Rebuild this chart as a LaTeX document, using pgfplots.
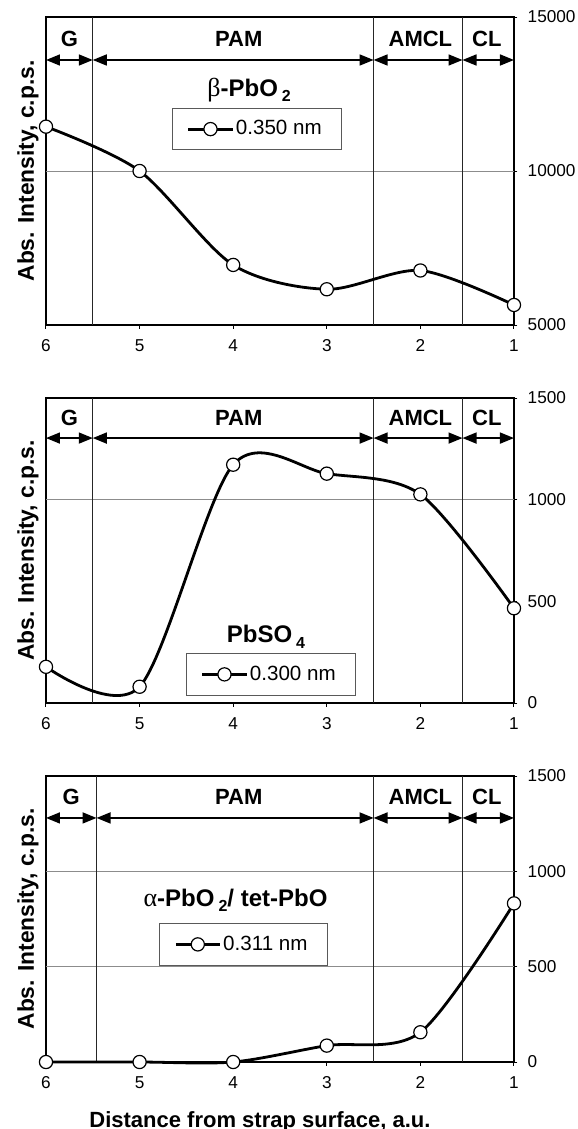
\documentclass[border=0pt]{standalone}
\usepackage{fontspec}
\setmainfont{Liberation Sans}
\newfontfamily\grk{Liberation Serif}
\usepackage{pgfplots}
\pgfplotsset{compat=1.18}
\usetikzlibrary{arrows.meta}

\pgfplotsset{
  panel/.style={
    scale only axis, width=234bp,
    xmin=1, xmax=6, x dir=reverse,
    xtick={1,2,3,4,5,6},
    xtick pos=bottom, ytick pos=right, yticklabel pos=right,
    tick align=outside, major tick length=1.75bp,
    every tick/.style={black, line width=0.5bp},
    axis line style={line width=0.7bp},
    tick label style={font=\fontsize{8.6bp}{10bp}\selectfont},
    /pgf/number format/assume math mode=true,
    /pgf/number format/1000 sep={},
    scaled y ticks=false,
    clip=false,
    xticklabel style={yshift=-2.2bp},
    yticklabel style={xshift=1.6bp},
    ylabel={Abs. Intensity, c.p.s.},
    every axis y label/.style={at={([xshift=-6bp]axis description cs:0,0.5)}, rotate=90, anchor=base, font=\bfseries\fontsize{11.4bp}{13bp}\selectfont},
    legend image code/.code={\draw[mark repeat=2,mark phase=2,#1,line width=1.4bp] plot coordinates {(0bp,0bp) (11bp,0bp) (22bp,0bp)};},
    legend style={draw=black!65, inner xsep=7.5bp, inner ysep=4bp, anchor=north west,
      font=\fontsize{10.3bp}{12bp}\selectfont, nodes={inner xsep=1bp, inner ysep=2bp}},
    legend cell align=left,
  },
  dataline/.style={black, line width=1.4bp, smooth, tension=0.5, mark=*, mark size=3.3bp,
    mark options={fill=white, draw=black, line width=0.6bp, solid}},
}
\tikzset{
  sep/.style={black!85, line width=0.6bp},
  grd/.style={black!45, line width=0.5bp},
  reg/.style={black, line width=0.8bp, {Triangle[length=7bp,width=5.5bp]}-{Triangle[length=7bp,width=5.5bp]}},
  lab/.style={font=\bfseries\fontsize{11bp}{12bp}\selectfont},
  ttl/.style={font=\bfseries\fontsize{12bp}{13bp}\selectfont},
}
\newcommand{\sub}[1]{\raisebox{-0.4ex}{\fontsize{8bp}{9bp}\selectfont #1}}

\begin{document}
\begin{tikzpicture}
\useasboundingbox (0,0) rectangle (289bp,-564.5bp);

% ---------- Panel 1 : beta-PbO2 ----------
\begin{axis}[panel, at={(23bp,-8.5bp)}, anchor=north west, height=154bp,
  ymin=5000, ymax=15000, ytick={5000,10000,15000},
  legend style={at={(0.2686,0.7045)}}]
  \draw[grd] (axis cs:6,10000) -- (axis cs:1,10000);
  \draw[sep] (axis cs:5.5,5000) -- (axis cs:5.5,15000);
  \draw[sep] (axis cs:2.5,5000) -- (axis cs:2.5,15000);
  \draw[sep] (axis cs:1.55,5000) -- (axis cs:1.55,15000);
  \draw[reg] (axis cs:6,13604) -- (axis cs:5.5,13604);
  \draw[reg] (axis cs:5.5,13604) -- (axis cs:2.5,13604);
  \draw[reg] (axis cs:2.5,13604) -- (axis cs:1.55,13604);
  \draw[reg] (axis cs:1.55,13604) -- (axis cs:1,13604);
  \node[lab] at (axis cs:5.75,14286) {G};
  \node[lab] at (axis cs:3.94,14286) {PAM};
  \node[lab] at (axis cs:2.0,14286) {AMCL};
  \node[lab] at (axis cs:1.29,14286) {CL};
  \node[ttl] at (axis description cs:0.434,0.763) {{\grk\mdseries\fontsize{13bp}{13bp}\selectfont β}-PbO\,\sub{2}};
  \addplot[dataline] coordinates {(6,11440) (5,10000) (4,6950) (3,6160) (2,6770) (1,5650)};
  \addlegendentry{0.350 nm\rule{1.5bp}{0pt}}
\end{axis}

% ---------- Panel 2 : PbSO4 ----------
\begin{axis}[panel, at={(23bp,-199bp)}, anchor=north west, height=152.5bp,
  ymin=0, ymax=1500, ytick={0,500,1000,1500},
  legend style={at={(0.2985,0.163)}}]
  \draw[grd] (axis cs:6,1000) -- (axis cs:1,1000);
  \draw[sep] (axis cs:5.5,0) -- (axis cs:5.5,1500);
  \draw[sep] (axis cs:2.5,0) -- (axis cs:2.5,1500);
  \draw[sep] (axis cs:1.55,0) -- (axis cs:1.55,1500);
  \draw[reg] (axis cs:6,1303) -- (axis cs:5.5,1303);
  \draw[reg] (axis cs:5.5,1303) -- (axis cs:2.5,1303);
  \draw[reg] (axis cs:2.5,1303) -- (axis cs:1.55,1303);
  \draw[reg] (axis cs:1.55,1303) -- (axis cs:1,1303);
  \node[lab] at (axis cs:5.75,1402) {G};
  \node[lab] at (axis cs:3.94,1402) {PAM};
  \node[lab] at (axis cs:2.0,1402) {AMCL};
  \node[lab] at (axis cs:1.29,1402) {CL};
  \node[ttl] at (axis description cs:0.47,0.217) {PbSO\,\sub{4}};
  \addplot[dataline] coordinates {(6,178) (5,80) (4,1172) (3,1128) (2,1026) (1,466)};
  \addlegendentry{0.300 nm\rule{1.5bp}{0pt}}
\end{axis}

% ---------- Panel 3 : alpha-PbO2 / tet-PbO ----------
\begin{axis}[panel, at={(23bp,-388bp)}, anchor=north west, height=143bp,
  ymin=0, ymax=1500, ytick={0,500,1000,1500},
  xlabel={Distance from strap surface, a.u.},
  every axis x label/.style={at={([xshift=-10bp,yshift=-32.5bp]axis description cs:0.5,0)}, anchor=base, font=\bfseries\fontsize{11bp}{13bp}\selectfont},
  legend style={at={(0.2415,0.485)}}]
  \draw[grd] (axis cs:6,1000) -- (axis cs:1,1000);
  \draw[grd] (axis cs:6,500) -- (axis cs:1,500);
  \draw[sep] (axis cs:5.46,0) -- (axis cs:5.46,1500);
  \draw[sep] (axis cs:2.5,0) -- (axis cs:2.5,1500);
  \draw[sep] (axis cs:1.55,0) -- (axis cs:1.55,1500);
  \draw[reg] (axis cs:6,1280) -- (axis cs:5.46,1280);
  \draw[reg] (axis cs:5.46,1280) -- (axis cs:2.5,1280);
  \draw[reg] (axis cs:2.5,1280) -- (axis cs:1.55,1280);
  \draw[reg] (axis cs:1.55,1280) -- (axis cs:1,1280);
  \node[lab] at (axis cs:5.73,1390) {G};
  \node[lab] at (axis cs:3.94,1390) {PAM};
  \node[lab] at (axis cs:2.0,1390) {AMCL};
  \node[lab] at (axis cs:1.29,1390) {CL};
  \node[ttl] at (axis description cs:0.405,0.566) {{\grk\mdseries\fontsize{13bp}{13bp}\selectfont α}-PbO\,\sub{2}/ tet-PbO};
  \addplot[dataline] coordinates {(6,0) (5,0) (4,0) (3,86) (2,156) (1,832)};
  \addlegendentry{0.311 nm\rule{1.5bp}{0pt}}
\end{axis}
\end{tikzpicture}
\end{document}
